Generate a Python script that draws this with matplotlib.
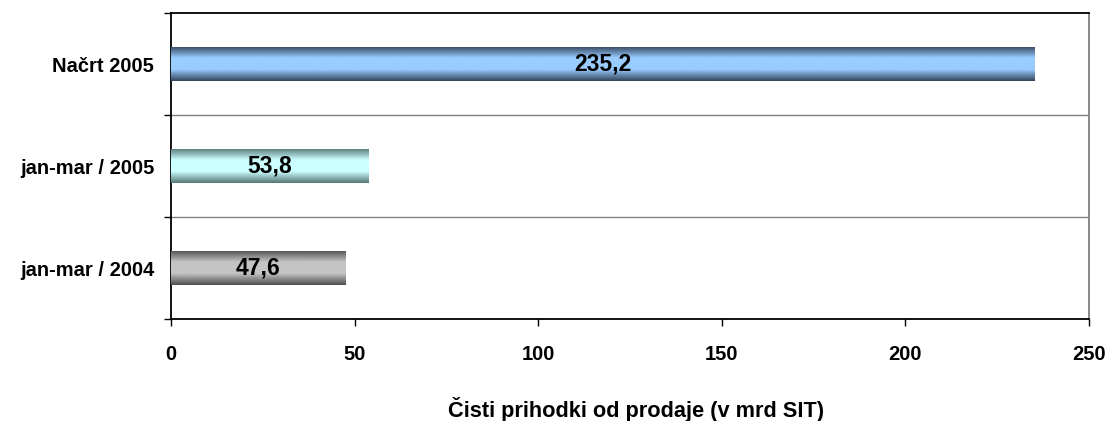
import numpy as np
import matplotlib.pyplot as plt
from matplotlib.colors import LinearSegmentedColormap

plt.rcParams['font.family'] = ['Liberation Sans', 'DejaVu Sans']
plt.rcParams['font.weight'] = 'bold'

categories = ['jan-mar / 2004', 'jan-mar / 2005', 'Načrt 2005']
values = [47.6, 53.8, 235.2]
labels = ['47,6', '53,8', '235,2']
xticks = [0, 50, 100, 150, 200, 250]

# edge colour, centre colour of each bar's vertical gradient
shades = [('#505050', '#c4c4c4'), ('#587878', '#ccffff'), ('#34465e', '#99ccff')]

fig = plt.figure(figsize=(11.08, 4.21), dpi=100)
ax = fig.add_axes([171/1108, 1 - 319/421, (1089-171)/1108, (319-13)/421])

ax.set_xlim(0, 250)
ax.set_ylim(-0.5, 2.5)

h = 0.34
bars = ax.barh(range(len(values)), values, height=h, color='none', edgecolor='none', zorder=3)
for bar, (edge, mid) in zip(bars, shades):
    cmap = LinearSegmentedColormap.from_list('g', [edge, mid, mid, edge], N=256)
    x0, y0 = bar.get_x(), bar.get_y()
    w, hh = bar.get_width(), bar.get_height()
    grad = np.linspace(0, 1, 64).reshape(-1, 1)
    im = ax.imshow(grad, cmap=cmap, aspect='auto', extent=[x0, x0 + w, y0, y0 + hh],
                   origin='lower', zorder=3, interpolation='bilinear')
    im.set_clip_path(bar)

for i, (v, t) in enumerate(zip(values, labels)):
    ax.text(v / 2, i, t, ha='center', va='center', fontsize=16.5, fontweight='bold', zorder=4)

# category separators
for yb in [0.5, 1.5]:
    ax.axhline(yb, color='#808080', lw=1, zorder=1)

ax.set_yticks([-0.5, 0.5, 1.5, 2.5])
ax.set_yticklabels([])
ax.set_yticks(range(len(categories)), minor=True)
ax.set_yticklabels(categories, minor=True, fontsize=14.5, fontweight='bold')
ax.tick_params(axis='y', which='minor', length=0, pad=12)
ax.tick_params(axis='y', which='major', length=5, width=1, direction='out')

ax.set_xticks(xticks)
ax.set_xticklabels([str(x) for x in xticks], fontsize=14.5, fontweight='bold')
ax.tick_params(axis='x', length=5, width=1, direction='out', pad=14)

for s in ['left', 'bottom', 'top']:
    ax.spines[s].set_color('black')
    ax.spines[s].set_linewidth(1.3)
ax.spines['right'].set_color('#808080')
ax.spines['right'].set_linewidth(1.3)

fig.text(636 / 1108, 1 - 417 / 421, 'Čisti prihodki od prodaje (v mrd SIT)',
         ha='center', va='baseline', fontsize=15.7, fontweight='bold')

fig.savefig('out.png', dpi=100)
